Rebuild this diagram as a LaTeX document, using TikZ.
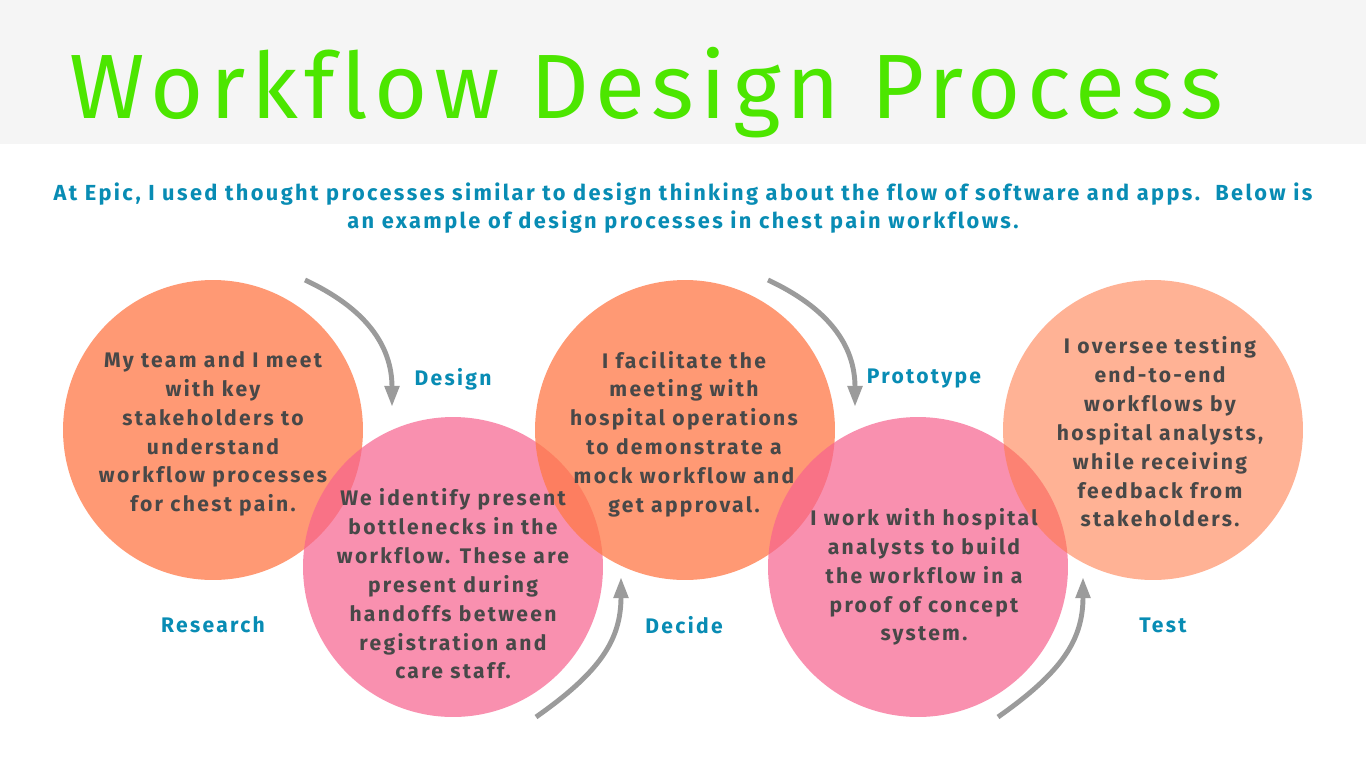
\documentclass[tikz,border=0pt]{standalone}
\usepackage{fontspec}
\setmainfont{Fira Sans}
\newfontfamily\titlefont[LetterSpace=7, Ligatures=NoCommon]{Fira Sans}
\newfontfamily\bodyfont[LetterSpace=11, Ligatures=NoCommon]{Fira Sans}
\usetikzlibrary{arrows.meta}

\definecolor{bandgrey}{RGB}{245,245,245}
\definecolor{titlegreen}{RGB}{76,230,0}
\definecolor{stepblue}{RGB}{8,140,180}
\definecolor{textgrey}{RGB}{72,72,72}
\definecolor{orangefill}{RGB}{255,120,70}
\definecolor{pinkfill}{RGB}{247,98,142}
\definecolor{arrowgrey}{RGB}{155,155,155}

\begin{document}
\begin{tikzpicture}[x=0.02cm, y=-0.02cm,
    bubble/.style={circle, minimum size=6cm, inner sep=0pt},
    bubbletext/.style={align=center, text=textgrey, font=\bodyfont\bfseries\fontsize{12}{16.4}\selectfont},
    steplabel/.style={text=stepblue, font=\bodyfont\bfseries\fontsize{12}{16.4}\selectfont},
    flow/.style={arrowgrey, line width=2.8pt, -{Triangle[length=12pt, width=8pt]}}]
  \useasboundingbox (0,0) rectangle (1366,768);
  \fill[white] (0,0) rectangle (1366,768);
  \fill[bandgrey] (0,0) rectangle (1366,144);

  \node[anchor=base west, inner sep=0pt, text=titlegreen, font=\titlefont\fontsize{52}{60}\selectfont] (title) at (69,118) {Workflow Design Process};

  \node[align=center, text=stepblue, font=\bodyfont\bfseries\fontsize{12.4}{16.4}\selectfont] (intro) at (683,208)
    {At Epic, I used thought processes similar to design thinking about the flow of software and apps.\ \ Below is\\
     an example of design processes in chest pain workflows.};

  % circles, drawn in order so each overlaps the previous one
  \node[bubble, fill=orangefill, fill opacity=0.75] (c1) at (213,430) {};
  \node[bubble, fill=pinkfill,   fill opacity=0.7]  (c2) at (453,567) {};
  \node[bubble, fill=orangefill, fill opacity=0.75] (c3) at (685,430) {};
  \node[bubble, fill=pinkfill,   fill opacity=0.7]  (c4) at (918,567) {};
  \node[bubble, fill=orangefill, fill opacity=0.57] (c5) at (1153,430) {};

  % texts in the circles
  \node[bubbletext] (t1) at (213,434) {My team and I meet\\ with key\\ stakeholders to\\ understand\\ workflow processes\\ for chest pain.};
  \node[bubbletext] (t2) at (453,584) {We identify present\\ bottlenecks in the\\ workflow. These are\\ present during\\ handoffs between\\ registration and\\ care staff.};
  \node[bubbletext] (t3) at (684,434) {I facilitate the\\ meeting with\\ hospital operations\\ to demonstrate a\\ mock workflow and\\ get approval.};
  \node[bubbletext] (t4) at (924,577) {I work with hospital\\ analysts to build\\ the workflow in a\\ proof of concept\\ system.};
  \node[bubbletext] (t5) at (1160,432) {I oversee testing\\ end-to-end\\ workflows by\\ hospital analysts,\\ while receiving\\ feedback from\\ stakeholders.};

  % step names
  \node[steplabel] (research)  at (213,625) {Research};
  \node[steplabel] (design)    at (453,379) {Design};
  \node[steplabel] (decide)    at (684,625) {Decide};
  \node[steplabel] (prototype) at (924,379) {Prototype};
  \node[steplabel] (test)      at (1163,625) {Test};

  % arrows
  \coordinate (a1s) at (305,280);
  \coordinate (a1e) at (392,407);
  \coordinate (a2s) at (536,717);
  \coordinate (a2e) at (621,577);
  \coordinate (a3s) at (768,280);
  \coordinate (a3e) at (855,407);
  \coordinate (a4s) at (998,717);
  \coordinate (a4e) at (1083,577);

  \draw[flow] (a1s) .. controls (365,308) and (392,345) .. (a1e);
  \draw[flow] (a2s) .. controls (600,672) and (621,640) .. (a2e);
  \draw[flow] (a3s) .. controls (828,308) and (855,345) .. (a3e);
  \draw[flow] (a4s) .. controls (1062,672) and (1083,640) .. (a4e);
\end{tikzpicture}
\end{document}
